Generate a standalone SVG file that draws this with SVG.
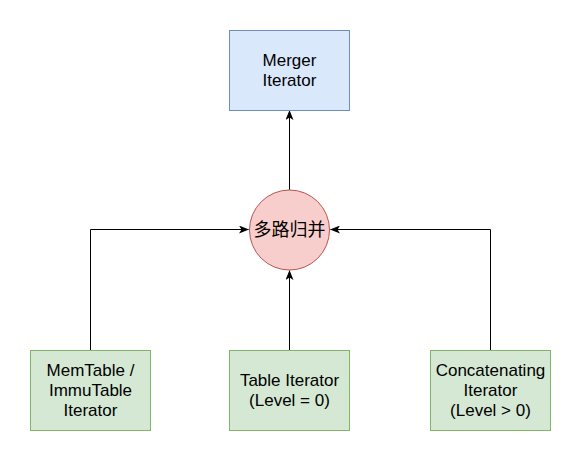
<svg xmlns="http://www.w3.org/2000/svg" width="582" height="461" viewBox="0 0 582 461">
<style>
.t{font-family:"Liberation Sans",Arial,sans-serif;font-size:17px;fill:#000;text-anchor:middle}
.cjk{font-family:"Liberation Sans","Noto Sans CJK SC",sans-serif;font-size:18px;fill:#000;text-anchor:middle}
.blue{fill:#dae8fc;stroke:#6c8ebf;stroke-width:1}
.green{fill:#d5e8d4;stroke:#82b366;stroke-width:1}
.red{fill:#f8cecc;stroke:#b85450;stroke-width:1}
.edge{fill:none;stroke:#000;stroke-width:1;marker-end:url(#arr)}
</style>
<defs>
<marker id="arr" viewBox="0 0 10 8" refX="9.5" refY="4" markerWidth="10" markerHeight="8" markerUnits="userSpaceOnUse" orient="auto">
<path d="M0,0 L10,4 L0,8 L2.5,4 Z" fill="#000"/>
</marker>
</defs>
<rect width="582" height="461" fill="#fff"/>
<g id="edges">
<path class="edge" d="M289.5,190 L289.5,110.5"/>
<path class="edge" d="M90.5,350 L90.5,229.5 L248.5,229.5"/>
<path class="edge" d="M289.5,350 L289.5,270.5"/>
<path class="edge" d="M490.5,350 L490.5,229.5 L330.5,229.5"/>
</g>
<g id="merger">
<rect class="blue" x="229.5" y="30.5" width="120" height="80"/>
<text class="t" x="289.5" y="66">Merger</text>
<text class="t" x="289.5" y="86">Iterator</text>
</g>
<g id="merge">
<circle class="red" cx="289.5" cy="230" r="40"/>
<text class="cjk" x="289.5" y="236">多路归并</text>
</g>
<g id="memtable">
<rect class="green" x="30.5" y="350.5" width="120" height="80"/>
<text class="t" x="90.5" y="376">MemTable /</text>
<text class="t" x="90.5" y="396">ImmuTable</text>
<text class="t" x="90.5" y="416">Iterator</text>
</g>
<g id="table">
<rect class="green" x="229.5" y="350.5" width="120" height="80"/>
<text class="t" x="289.5" y="386">Table Iterator</text>
<text class="t" x="289.5" y="406">(Level = 0)</text>
</g>
<g id="concat">
<rect class="green" x="430.5" y="350.5" width="120" height="80"/>
<text class="t" x="490.5" y="376">Concatenating</text>
<text class="t" x="490.5" y="396">Iterator</text>
<text class="t" x="490.5" y="416">(Level &gt; 0)</text>
</g>
</svg>
